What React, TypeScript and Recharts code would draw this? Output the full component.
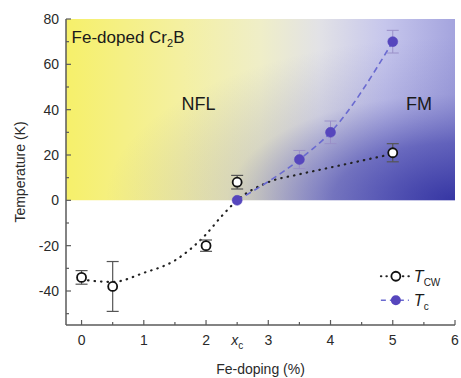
import React from 'react';
import { ComposedChart, XAxis, YAxis, Line, Scatter, ErrorBar, ReferenceArea, ReferenceDot } from 'recharts';

// T_CW data
const cwX = [0, 0.5, 2, 2.5, 5];
const cwY = [-34, -38, -20, 8, 21];
const cwErr = [3, 11, 2.5, 3, 4];
// T_c data
const tcX = [2.5, 3.5, 4, 5];
const tcY = [0, 18, 30, 70];
const tcErr = [0, 4, 5, 5];
// dotted guide through T_CW
const fitX = [0, 0.5, 1, 1.5, 2, 2.25, 2.5, 3, 3.5, 4, 4.5, 5];
const fitY = [-35, -36, -32, -26.5, -15, -7, 0, 8, 11.5, 14.5, 17.5, 20.5];

const xTicks = [0, 0.5, 1, 1.5, 2, 2.5, 3, 3.5, 4, 4.5, 5, 5.5, 6];
const xLabels: Record<string, string> = { '0': '0', '1': '1', '2': '2', '3': '3', '4': '4', '5': '5', '6': '6' };
const yTicks = [-50, -40, -30, -20, -10, 0, 10, 20, 30, 40, 50, 60, 70, 80];
const yMajor = [-40, -20, 0, 20, 40, 60, 80];

const cwData = cwX.map((x, i) => ({ x, y: cwY[i], e: cwErr[i] }));
const tcData = tcX.map((x, i) => ({ x, y: tcY[i], e: tcErr[i] }));
const fitData = fitX.map((x, i) => ({ x, y: fitY[i] }));

const FONT = '"Liberation Sans", Arial, sans-serif';
const AX = '#5a5a5a';
const TXT = '#2a2a2a';

const isMajorX = (v: number) => Number.isInteger(v);

const XTickBottom = (p: any) => {
  const { x, y, payload } = p;
  const v = payload.value;
  const len = isMajorX(v) ? 5 : 3;
  let label: any = null;
  if (xLabels[String(v)] !== undefined) {
    label = <text x={x} y={y + 20} textAnchor="middle" fontSize={14} fontFamily={FONT} fill={TXT}>{xLabels[String(v)]}</text>;
  } else if (v === 2.5) {
    label = (
      <text x={x} y={y + 20} textAnchor="middle" fontSize={14} fontFamily={FONT} fill={TXT}>
        <tspan fontStyle="italic">x</tspan>
        <tspan fontSize={10} dy={4}>c</tspan>
      </text>
    );
  }
  return (
    <g>
      <line x1={x} x2={x} y1={y} y2={y - len} stroke={AX} strokeWidth={1.2} />
      {label}
    </g>
  );
};

const XTickTop = (p: any) => {
  const { x, y, payload } = p;
  const len = isMajorX(payload.value) ? 5 : 3;
  return <line x1={x} x2={x} y1={y} y2={y + len} stroke={AX} strokeWidth={1.2} />;
};

const YTickLeft = (p: any) => {
  const { x, y, payload } = p;
  const major = yMajor.includes(payload.value);
  return (
    <g>
      <line x1={x} x2={x + (major ? 5 : 3)} y1={y} y2={y} stroke={AX} strokeWidth={1.2} />
      {major && (
        <text x={x - 7} y={y} dy={5} textAnchor="end" fontSize={14} fontFamily={FONT} fill={TXT}>
          {payload.value}
        </text>
      )}
    </g>
  );
};

const YTickRight = (p: any) => {
  const { x, y, payload } = p;
  const major = yMajor.includes(payload.value);
  return <line x1={x} x2={x - (major ? 5 : 3)} y1={y} y2={y} stroke={AX} strokeWidth={1.2} />;
};

const OpenDot = (p: any) => <circle cx={p.cx} cy={p.cy} r={4.5} fill="#fff" stroke="#111" strokeWidth={1.8} />;
const FullDot = (p: any) => <circle cx={p.cx} cy={p.cy} r={5} fill="#5646bd" stroke="#5646bd" strokeWidth={0.5} />;

const textShape = (content: any, size: number, anchor: string = 'start') => (p: any) => (
  <text x={p.cx} y={p.cy} textAnchor={anchor as any} fontSize={size} fontFamily={FONT} fill="#1a1a1a">
    {content}
  </text>
);

const LegendShape = (p: any) => {
  const { cx, cy } = p;
  return (
    <g fontFamily={FONT}>
      <line x1={cx - 15} x2={cx + 13} y1={cy} y2={cy} stroke="#222" strokeWidth={2} strokeDasharray="0.5 5" strokeLinecap="round" />
      <circle cx={cx} cy={cy} r={4.5} fill="#fff" stroke="#111" strokeWidth={1.8} />
      <text x={cx + 18} y={cy + 6} fontSize={16} fill="#1a1a1a">
        <tspan fontStyle="italic">T</tspan>
        <tspan fontSize={10} dy={4}>CW</tspan>
      </text>
      <line x1={cx - 15} x2={cx + 13} y1={cy + 24} y2={cy + 24} stroke="#6a6ad0" strokeWidth={1.6} strokeDasharray="5 4" />
      <circle cx={cx} cy={cy + 24} r={5} fill="#5646bd" />
      <text x={cx + 18} y={cy + 30} fontSize={16} fill="#1a1a1a">
        <tspan fontStyle="italic">T</tspan>
        <tspan fontSize={10} dy={4}>c</tspan>
      </text>
    </g>
  );
};

export default function App() {
  return (
    <div style={{ position: 'absolute', left: 0, top: 0, background: '#fff' }}>
      <ComposedChart width={461} height={378} margin={{ top: 19, right: 6, bottom: 0, left: 0 }}>
        <defs>
          <linearGradient id="bgH" x1="0" y1="0" x2="1" y2="0">
            <stop offset="0" stopColor="#f6f06a" />
            <stop offset="0.3" stopColor="#f4f0a2" />
            <stop offset="0.5" stopColor="#efeec8" />
            <stop offset="0.65" stopColor="#e2e2e6" />
            <stop offset="0.82" stopColor="#c6c6ec" />
            <stop offset="1" stopColor="#a4a4de" />
          </linearGradient>
          <radialGradient id="bgR" cx="1" cy="1" r="0.9" fx="1" fy="1">
            <stop offset="0" stopColor="#3030a0" stopOpacity={0.95} />
            <stop offset="0.35" stopColor="#3c3ca8" stopOpacity={0.65} />
            <stop offset="0.65" stopColor="#5050b0" stopOpacity={0.15} />
            <stop offset="1" stopColor="#5050b0" stopOpacity={0} />
          </radialGradient>
        </defs>
        <XAxis
          dataKey="x"
          type="number"
          domain={[-0.25, 6]}
          ticks={xTicks}
          interval={0}
          allowDataOverflow
          height={53}
          tickSize={0}
          tickMargin={0}
          tick={<XTickBottom />}
          stroke={AX}
          strokeWidth={1.5}
          label={{ value: 'Fe-doping (%)', position: 'insideBottom', offset: 4, fontSize: 14, fontFamily: FONT, fill: TXT }}
        />
        <XAxis
          xAxisId="t"
          dataKey="x"
          type="number"
          orientation="top"
          domain={[-0.25, 6]}
          ticks={xTicks}
          interval={0}
          allowDataOverflow
          height={0}
          tickSize={0}
          tickMargin={0}
          tick={<XTickTop />}
          stroke={AX}
          strokeWidth={1.5}
        />
        <YAxis
          type="number"
          domain={[-55, 80]}
          ticks={yTicks}
          interval={0}
          allowDataOverflow
          width={66}
          tickSize={0}
          tickMargin={0}
          tick={<YTickLeft />}
          stroke={AX}
          strokeWidth={1.5}
          label={{ value: 'Temperature (K)', angle: -90, position: 'insideLeft', offset: 20, fontSize: 14, fontFamily: FONT, fill: TXT, style: { textAnchor: 'middle' } }}
        />
        <YAxis
          yAxisId="r"
          type="number"
          orientation="right"
          domain={[-55, 80]}
          ticks={yTicks}
          interval={0}
          allowDataOverflow
          width={0}
          tickSize={0}
          tickMargin={0}
          tick={<YTickRight />}
          stroke={AX}
          strokeWidth={1.5}
        />
        <ReferenceArea x1={-0.25} x2={6} y1={0} y2={80} fill="url(#bgH)" fillOpacity={1} stroke="none" />
        <ReferenceArea x1={-0.25} x2={6} y1={0} y2={80} fill="url(#bgR)" fillOpacity={1} stroke="none" />
        <ReferenceDot x={-0.16} y={69.5} r={0} shape={textShape(<>Fe-doped Cr<tspan fontSize={11} dy={4}>2</tspan><tspan dy={-4}>B</tspan></>, 17)} />
        <ReferenceDot x={1.88} y={40} r={0} shape={textShape('NFL', 18, 'middle')} />
        <ReferenceDot x={5.42} y={40} r={0} shape={textShape('FM', 18, 'middle')} />
        <Line data={fitData} dataKey="y" type="monotone" stroke="#222" strokeWidth={2.2} strokeDasharray="0.5 6" strokeLinecap="round" dot={false} activeDot={false} isAnimationActive={false} />
        <Line data={tcData} dataKey="y" type="monotone" stroke="#6a6ad0" strokeWidth={1.6} strokeDasharray="6 4" dot={false} activeDot={false} isAnimationActive={false} />
        <Scatter data={tcData} dataKey="y" shape={FullDot} isAnimationActive={false}>
          <ErrorBar dataKey="e" direction="y" width={6} stroke="#9a90c8" strokeWidth={1} />
        </Scatter>
        <Scatter data={cwData} dataKey="y" shape={OpenDot} isAnimationActive={false}>
          <ErrorBar dataKey="e" direction="y" width={6} stroke="#555" strokeWidth={1.2} />
        </Scatter>
        <ReferenceDot x={5.05} y={-33.5} r={0} shape={LegendShape} />
      </ComposedChart>
    </div>
  );
}
